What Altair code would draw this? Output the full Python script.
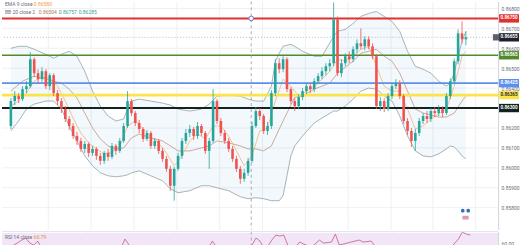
import altair as alt
import pandas as pd

# ---------------- data ----------------
open_ = [0.86210, 0.86335, 0.86360, 0.86345, 0.86395, 0.86410, 0.86545, 0.86475, 0.86445, 0.86485,
         0.86410, 0.86465, 0.86375, 0.86335, 0.86295, 0.86245, 0.86210, 0.86160, 0.86135, 0.86095,
         0.86120, 0.86075, 0.86095, 0.86060, 0.86035, 0.86075, 0.86055, 0.86110, 0.86085, 0.86135,
         0.86210, 0.86335, 0.86275, 0.86225, 0.86195, 0.86145, 0.86175, 0.86110, 0.86135, 0.86085,
         0.86045, 0.85995, 0.85910, 0.85995, 0.86060, 0.86135, 0.86175, 0.86195, 0.86160, 0.86210,
         0.86175, 0.86085, 0.86135, 0.86335, 0.86235, 0.86175, 0.86135, 0.86095, 0.86045, 0.85995,
         0.85945, 0.85975, 0.86035, 0.86210, 0.86285, 0.86260, 0.86185, 0.86210, 0.86375, 0.86525,
         0.86495, 0.86545, 0.86395, 0.86335, 0.86310, 0.86355, 0.86385, 0.86410, 0.86395, 0.86435,
         0.86460, 0.86485, 0.86510, 0.86525, 0.86745, 0.86475, 0.86525, 0.86560, 0.86545, 0.86595,
         0.86625, 0.86610, 0.86645, 0.86610, 0.86560, 0.86310, 0.86335, 0.86295, 0.86360, 0.86410,
         0.86425, 0.86360, 0.86235, 0.86185, 0.86135, 0.86175, 0.86235, 0.86260, 0.86245, 0.86285,
         0.86275, 0.86295, 0.86275, 0.86360, 0.86435, 0.86535, 0.86675, 0.86645]
close = [0.86335, 0.86360, 0.86345, 0.86395, 0.86410, 0.86545, 0.86475, 0.86445, 0.86485, 0.86410,
         0.86465, 0.86375, 0.86335, 0.86295, 0.86245, 0.86210, 0.86160, 0.86135, 0.86095, 0.86120,
         0.86075, 0.86095, 0.86060, 0.86035, 0.86075, 0.86055, 0.86110, 0.86085, 0.86135, 0.86210,
         0.86335, 0.86275, 0.86225, 0.86195, 0.86145, 0.86175, 0.86110, 0.86135, 0.86085, 0.86045,
         0.85995, 0.85910, 0.85995, 0.86060, 0.86135, 0.86175, 0.86195, 0.86160, 0.86210, 0.86175,
         0.86085, 0.86135, 0.86335, 0.86235, 0.86175, 0.86135, 0.86095, 0.86045, 0.85995, 0.85945,
         0.85975, 0.86035, 0.86210, 0.86285, 0.86260, 0.86185, 0.86210, 0.86375, 0.86525, 0.86495,
         0.86545, 0.86395, 0.86335, 0.86310, 0.86355, 0.86385, 0.86410, 0.86395, 0.86435, 0.86460,
         0.86485, 0.86510, 0.86525, 0.86745, 0.86475, 0.86525, 0.86560, 0.86545, 0.86595, 0.86625,
         0.86610, 0.86645, 0.86610, 0.86560, 0.86310, 0.86335, 0.86295, 0.86360, 0.86410, 0.86425,
         0.86360, 0.86235, 0.86185, 0.86135, 0.86175, 0.86235, 0.86260, 0.86245, 0.86285, 0.86275,
         0.86295, 0.86275, 0.86360, 0.86435, 0.86535, 0.86675, 0.86645, 0.86655]
high = [0.86350, 0.86385, 0.86375, 0.86410, 0.86435, 0.86580, 0.86555, 0.86495, 0.86505, 0.86495,
        0.86475, 0.86475, 0.86390, 0.86350, 0.86310, 0.86260, 0.86225, 0.86180, 0.86150, 0.86135,
        0.86130, 0.86110, 0.86105, 0.86075, 0.86085, 0.86095, 0.86125, 0.86120, 0.86150, 0.86225,
        0.86385, 0.86345, 0.86285, 0.86240, 0.86205, 0.86190, 0.86185, 0.86150, 0.86145, 0.86100,
        0.86060, 0.86010, 0.86005, 0.86075, 0.86150, 0.86195, 0.86215, 0.86205, 0.86230, 0.86220,
        0.86185, 0.86150, 0.86395, 0.86345, 0.86250, 0.86190, 0.86150, 0.86110, 0.86060, 0.86010,
        0.85995, 0.86050, 0.86230, 0.86305, 0.86300, 0.86270, 0.86230, 0.86390, 0.86545, 0.86550,
        0.86560, 0.86555, 0.86405, 0.86350, 0.86370, 0.86400, 0.86425, 0.86425, 0.86450, 0.86475,
        0.86505, 0.86525, 0.86545, 0.86830, 0.86760, 0.86545, 0.86575, 0.86585, 0.86610, 0.86645,
        0.86700, 0.86660, 0.86660, 0.86625, 0.86570, 0.86355, 0.86350, 0.86375, 0.86425, 0.86445,
        0.86440, 0.86370, 0.86250, 0.86200, 0.86195, 0.86250, 0.86275, 0.86285, 0.86300, 0.86305,
        0.86315, 0.86310, 0.86375, 0.86450, 0.86550, 0.86695, 0.86735, 0.86685]
low = [0.86195, 0.86315, 0.86325, 0.86335, 0.86375, 0.86400, 0.86455, 0.86425, 0.86430, 0.86395,
       0.86390, 0.86360, 0.86315, 0.86275, 0.86230, 0.86190, 0.86145, 0.86115, 0.86080, 0.86075,
       0.86055, 0.86060, 0.86040, 0.86015, 0.86020, 0.86035, 0.86045, 0.86065, 0.86075, 0.86125,
       0.86200, 0.86260, 0.86210, 0.86175, 0.86130, 0.86135, 0.86095, 0.86095, 0.86070, 0.86030,
       0.85980, 0.85885, 0.85835, 0.85985, 0.86045, 0.86120, 0.86155, 0.86140, 0.86145, 0.86160,
       0.86070, 0.85995, 0.86125, 0.86220, 0.86160, 0.86120, 0.86080, 0.86030, 0.85980, 0.85920,
       0.85930, 0.85960, 0.86025, 0.86200, 0.86240, 0.86170, 0.86165, 0.86195, 0.86360, 0.86475,
       0.86480, 0.86380, 0.86320, 0.86285, 0.86295, 0.86340, 0.86370, 0.86375, 0.86380, 0.86420,
       0.86445, 0.86465, 0.86485, 0.86510, 0.86460, 0.86455, 0.86510, 0.86525, 0.86530, 0.86575,
       0.86595, 0.86590, 0.86595, 0.86545, 0.86295, 0.86285, 0.86280, 0.86285, 0.86345, 0.86395,
       0.86345, 0.86220, 0.86165, 0.86105, 0.86085, 0.86160, 0.86220, 0.86225, 0.86230, 0.86255,
       0.86260, 0.86255, 0.86265, 0.86345, 0.86420, 0.86520, 0.86625, 0.86615]
candle_idx = list(range(len(close)))

band_idx = [0, 2, 4, 6, 9, 11, 13, 15, 17, 19, 21, 23, 25, 27, 29, 30, 31, 33, 36, 39, 41, 43, 46, 49,
            51, 53, 56, 59, 61, 63, 65, 67, 68, 69, 70, 71, 72, 73, 75, 78, 80, 83, 84, 86, 88, 90,
            92, 94, 96, 98, 100, 102, 104, 106, 108, 110, 112, 113, 114, 115, 116, 117]
bb_upper = [0.86600, 0.86610, 0.86610, 0.86595, 0.86570, 0.86550, 0.86570, 0.86585, 0.86560, 0.86485,
            0.86385, 0.86310, 0.86260, 0.86235, 0.86245, 0.86295, 0.86335, 0.86345, 0.86335, 0.86325,
            0.86315, 0.86295, 0.86285, 0.86295, 0.86320, 0.86360, 0.86365, 0.86360, 0.86345, 0.86335,
            0.86335, 0.86410, 0.86535, 0.86575, 0.86610, 0.86615, 0.86620, 0.86610, 0.86585, 0.86560,
            0.86560, 0.86660, 0.86685, 0.86695, 0.86725, 0.86760, 0.86775, 0.86785, 0.86760, 0.86735,
            0.86685, 0.86585, 0.86510, 0.86495, 0.86475, 0.86435, 0.86410, 0.86425, 0.86475, 0.86560,
            0.86635, 0.86685]
bb_lower = [0.86185, 0.86235, 0.86295, 0.86320, 0.86335, 0.86335, 0.86295, 0.86210, 0.86135, 0.86060,
            0.86010, 0.85975, 0.85960, 0.85955, 0.85960, 0.85965, 0.85975, 0.85985, 0.85960, 0.85935,
            0.85895, 0.85875, 0.85885, 0.85910, 0.85910, 0.85900, 0.85885, 0.85855, 0.85845, 0.85850,
            0.85845, 0.85835, 0.85835, 0.85835, 0.85860, 0.85960, 0.86060, 0.86110, 0.86160, 0.86225,
            0.86250, 0.86285, 0.86285, 0.86310, 0.86345, 0.86385, 0.86400, 0.86395, 0.86360, 0.86335,
            0.86260, 0.86160, 0.86085, 0.86060, 0.86055, 0.86070, 0.86095, 0.86110, 0.86105, 0.86085,
            0.86060, 0.86045]
basis_idx = [0, 3, 6, 9, 11, 13, 15, 17, 19, 21, 23, 25, 27, 29, 31, 33, 36, 39, 41, 43, 46, 49, 51,
             53, 56, 59, 61, 63, 65, 67, 69, 71, 73, 75, 78, 80, 82, 84, 86, 88, 90, 92, 94, 96, 98,
             100, 102, 104, 106, 108, 110, 112, 114, 116, 117]
bb_basis = [0.86385, 0.86435, 0.86460, 0.86445, 0.86435, 0.86425, 0.86395, 0.86350, 0.86275, 0.86200,
            0.86145, 0.86110, 0.86095, 0.86100, 0.86150, 0.86170, 0.86150, 0.86135, 0.86110, 0.86085,
            0.86085, 0.86100, 0.86110, 0.86135, 0.86125, 0.86110, 0.86095, 0.86095, 0.86085, 0.86110,
            0.86195, 0.86275, 0.86355, 0.86360, 0.86395, 0.86410, 0.86425, 0.86475, 0.86505, 0.86535,
            0.86575, 0.86585, 0.86595, 0.86560, 0.86535, 0.86475, 0.86385, 0.86295, 0.86275, 0.86265,
            0.86255, 0.86255, 0.86275, 0.86335, 0.86360]
ema_idx = [0, 2, 4, 6, 8, 10, 12, 14, 16, 18, 20, 22, 24, 26, 28, 30, 32, 34, 36, 38, 40, 42, 44, 46,
           48, 50, 52, 54, 56, 58, 60, 62, 64, 66, 68, 70, 72, 74, 76, 78, 80, 82, 84, 86, 88, 90,
           92, 94, 96, 98, 100, 102, 104, 106, 108, 110, 112, 114, 116, 117]
ema9 = [0.86310, 0.86335, 0.86375, 0.86435, 0.86455, 0.86450, 0.86410, 0.86335, 0.86250, 0.86175,
        0.86125, 0.86095, 0.86070, 0.86080, 0.86105, 0.86210, 0.86235, 0.86195, 0.86155, 0.86125,
        0.86075, 0.86010, 0.86060, 0.86135, 0.86170, 0.86145, 0.86210, 0.86210, 0.86160, 0.86085,
        0.86010, 0.86060, 0.86185, 0.86200, 0.86335, 0.86445, 0.86410, 0.86360, 0.86385, 0.86405,
        0.86445, 0.86485, 0.86545, 0.86535, 0.86560, 0.86595, 0.86610, 0.86510, 0.86410, 0.86385,
        0.86385, 0.86295, 0.86195, 0.86210, 0.86245, 0.86270, 0.86295, 0.86410, 0.86560, 0.86585]
rsi_idx = [0, 2, 4, 5, 6, 7, 8, 9, 12, 20, 28, 29, 30, 31, 33, 40, 42, 45, 48, 50, 52, 53, 56, 60, 62,
           63, 64, 65, 66, 67, 68, 69, 70, 71, 72, 74, 75, 77, 79, 80, 82, 83, 84, 86, 89, 90, 92,
           93, 94, 98, 100, 103, 108, 112, 114, 115, 116, 117]
rsi14 = [55, 58, 63, 65, 60, 58, 62, 55, 45, 38, 50, 55, 64, 58, 50, 35, 45, 55, 57, 48, 62, 56, 45,
         38, 58, 65, 62, 55, 57, 63, 68, 67, 68, 58, 52, 61, 59, 56, 63, 60, 61, 69, 58, 60, 63, 61,
         62, 57, 45, 52, 50, 40, 48, 55, 64, 71, 69, 68]

# price ticks (0.8630 sits under the black level label, as in the original)
price_ticks = [0.8580, 0.8590, 0.8600, 0.8610, 0.8620, 0.8640, 0.8650, 0.8660, 0.8670, 0.8680]
grid_ticks = [0.8580, 0.8590, 0.8600, 0.8610, 0.8620, 0.8630, 0.8640, 0.8650, 0.8660, 0.8670, 0.8680]
level_values = [0.86750, 0.86565, 0.86425, 0.86365, 0.86300]
last_price = 0.86655
crosshair_idx = 61.8
vgrid_idx = [9.5, 20.5, 31.5, 42.5, 53.5, 64.5, 75.5, 86.5, 97.5, 108.5, 119.5]
rsi_ticks = [60]
rsi_band = [70, 30]
event_idx = [116.2, 117.6]
event_price = [0.85785, 0.85785]
event2_idx = [116.9]
event2_price = [0.85750]

hdr_ema = ["EMA 9 close", "0.86580"]
hdr_bb = ["BB 20 close 2", "0.86504", "0.86757", "0.86285"]
hdr_rsi = ["RSI 14 close", "66.79"]

# ---------------- styles ----------------
UP, DN = "#26a69a", "#ef5350"
LEVEL_COLORS = ["#e0312f", "#4f8a2b", "#5b8ff0", "#fbe44a", "#16221f"]
LEVEL_WIDTHS = [2, 1.6, 1.6, 2.6, 2]
LEVEL_TEXT = ["white", "white", "white", "#333333", "white"]
FONT = "Roboto"
GRID = "#eef0f4"
AX = "#6a6d78"
W, H_MAIN, H_RSI = 498, 229, 16

xs = alt.Scale(domain=[-1, 124], nice=False, zero=False)
ys = alt.Scale(domain=[0.8569, 0.86835], nice=False, zero=False)
rs = alt.Scale(domain=[55.5, 71.5], nice=False, zero=False)

xaxis = alt.Axis(title=None, labels=False, ticks=False, domain=False, grid=True,
                 values=vgrid_idx, gridColor=GRID, gridWidth=1)
yaxis = alt.Axis(title=None, orient="right", values=price_ticks, format=".5f",
                 labelFontSize=5, labelColor=AX, labelFont=FONT, ticks=False,
                 domain=True, domainColor="#d1d4dc", grid=False, labelPadding=3)
raxis = alt.Axis(title=None, orient="right", values=rsi_ticks, format=".2f",
                 labelFontSize=5, labelColor=AX, labelFont=FONT, ticks=False,
                 domain=True, domainColor="#d1d4dc", grid=False, labelPadding=3)


def X(f="i"):
    return alt.X(f"{f}:Q", scale=xs, axis=xaxis, title=None)


def Y(f):
    return alt.Y(f"{f}:Q", scale=ys, axis=yaxis, title=None)


def RY(f):
    return alt.Y(f"{f}:Q", scale=rs, axis=raxis, title=None)


cdf = pd.DataFrame(dict(i=candle_idx, open=open_, high=high, low=low, close=close))
bdf = pd.DataFrame(dict(i=band_idx, upper=bb_upper, lower=bb_lower))
mdf = pd.DataFrame(dict(i=basis_idx, basis=bb_basis))
edf = pd.DataFrame(dict(i=ema_idx, ema=ema9))

hgrid = alt.Chart(pd.DataFrame(dict(p=grid_ticks))).mark_rule(color=GRID, strokeWidth=1).encode(y=Y("p"))
band_fill = alt.Chart(bdf).mark_area(color="#5fa8d3", opacity=0.08).encode(
    x=X(), y=Y("upper"), y2="lower:Q")
band_up = alt.Chart(bdf).mark_line(color="#8fa2a6", strokeWidth=0.8).encode(x=X(), y=Y("upper"))
band_lo = alt.Chart(bdf).mark_line(color="#8fa2a6", strokeWidth=0.8).encode(x=X(), y=Y("lower"))
basis = alt.Chart(mdf).mark_line(color="#c39684", strokeWidth=0.8).encode(x=X(), y=Y("basis"))
ema = alt.Chart(edf).mark_line(color="#f6b27c", strokeWidth=0.8).encode(x=X(), y=Y("ema"))

color = alt.Color("dir:N", scale=alt.Scale(domain=["up", "down"], range=[UP, DN]), legend=None)
cbase = alt.Chart(cdf).transform_calculate(dir="datum.close >= datum.open ? 'up' : 'down'")
wicks = cbase.mark_rule(strokeWidth=0.8).encode(x=X(), y=Y("low"), y2="high:Q", color=color)
bodies = cbase.mark_bar(width=2.6).encode(x=X(), y=Y("open"), y2="close:Q", color=color)

layers = [hgrid, band_fill, band_up, band_lo, basis, ema]

# current price dotted line
lp = pd.DataFrame(dict(p=[last_price]))
layers.append(alt.Chart(lp).mark_rule(color="#b8bcc6", strokeWidth=1, strokeDash=[1, 2]).encode(y=Y("p")))

# horizontal levels
for v, c, w in zip(level_values, LEVEL_COLORS, LEVEL_WIDTHS):
    layers.append(alt.Chart(pd.DataFrame(dict(p=[v]))).mark_rule(color=c, strokeWidth=w).encode(y=Y("p")))

layers += [wicks, bodies]

# crosshair
ch = pd.DataFrame(dict(i=[crosshair_idx], p=[level_values[0]]))
layers.append(alt.Chart(ch).mark_rule(color="#9598a1", strokeWidth=0.8, strokeDash=[3, 3]).encode(x=X()))
layers.append(alt.Chart(ch).mark_point(shape="circle", size=22, filled=True, fill="white",
                                       stroke="#6d72c9", strokeWidth=1, opacity=1).encode(x=X(), y=Y("p")))

# event markers near the bottom right
layers.append(alt.Chart(pd.DataFrame(dict(i=event_idx, p=event_price))).mark_point(
    shape="circle", size=14, filled=True, color="#2f6fb5", opacity=1).encode(x=X(), y=Y("p")))
layers.append(alt.Chart(pd.DataFrame(dict(i=event2_idx, p=event2_price))).mark_point(
    shape="M-1,-0.6H1V0.6H-1Z", size=40, filled=True, color="#d99ab9", opacity=1).encode(x=X(), y=Y("p")))

# price label boxes on the right axis
BOX = "M-1,-0.42H1V0.42H-1Z"
for v, c, tc in zip(level_values, LEVEL_COLORS, LEVEL_TEXT):
    d = pd.DataFrame(dict(p=[v], t=[f"{v:.5f}"]))
    layers.append(alt.Chart(d).mark_point(shape=BOX, size=400, filled=True, color=c, opacity=1).encode(
        x=alt.value(509), y=Y("p")))
    layers.append(alt.Chart(d).mark_text(fontSize=4.6, font=FONT, color=tc, fontWeight="bold").encode(
        x=alt.value(509), y=Y("p"), text="t:N"))
dl = pd.DataFrame(dict(p=[last_price], t=[f"{last_price:.5f}"]))
layers.append(alt.Chart(dl).mark_point(shape=BOX, size=400, filled=True, color="#1e222d", opacity=1).encode(
    x=alt.value(509), y=Y("p")))
layers.append(alt.Chart(dl).mark_point(shape="M-1,-1H1V1H-1Z", size=40, filled=True, color="#5d606b",
                                       opacity=1).encode(x=alt.value(496), y=Y("p")))
layers.append(alt.Chart(dl).mark_text(fontSize=4.6, font=FONT, color="white", fontWeight="bold").encode(
    x=alt.value(509), y=Y("p"), text="t:N"))


# header texts
def txt(s, x, y, c):
    return alt.Chart(pd.DataFrame(dict(t=[s]))).mark_text(
        fontSize=5, font=FONT, color=c, align="left", baseline="middle").encode(
        x=alt.value(x), y=alt.value(y), text="t:N")


layers += [txt(hdr_ema[0], 3, 3, "#6a6d78"), txt(hdr_ema[1], 32, 3, "#f0a13c"),
           txt(hdr_bb[0], 3, 11, "#6a6d78"), txt(hdr_bb[1], 37, 11, "#b07a5c"),
           txt(hdr_bb[2], 57, 11, "#3d9e98"), txt(hdr_bb[3], 77, 11, "#3d9e98")]

main = alt.layer(*layers).properties(width=W, height=H_MAIN)

# ---------------- RSI panel ----------------
rdf = pd.DataFrame(dict(i=rsi_idx, r=rsi14))
rband = alt.Chart(pd.DataFrame(dict(a=[rsi_band[0]], b=[rsi_band[1]]))).mark_rect(
    color="#f1e5f7", clip=True).encode(y=RY("a"), y2="b:Q")
rgrid = alt.Chart(pd.DataFrame(dict(i=vgrid_idx))).mark_rule(color=GRID, strokeWidth=1).encode(
    x=alt.X("i:Q", scale=xs, axis=None))
rline = alt.Chart(rdf).mark_line(color="#c2607e", strokeWidth=0.8, clip=True).encode(
    x=alt.X("i:Q", scale=xs, axis=None), y=RY("r"))
rcross = alt.Chart(pd.DataFrame(dict(i=[crosshair_idx]))).mark_rule(
    color="#9598a1", strokeWidth=0.8, strokeDash=[3, 3]).encode(x=alt.X("i:Q", scale=xs, axis=None))
rsep = alt.Chart(pd.DataFrame(dict(i=[0]))).mark_rule(color="#e0e3eb", strokeWidth=1).encode(
    x=alt.value(0), x2=alt.value(W), y=alt.value(0))
rsi = alt.layer(rgrid, rband, rline, rcross, rsep,
                txt(hdr_rsi[0], 3, 5, "#6a6d78"), txt(hdr_rsi[1], 32, 5, "#e0923a")
                ).properties(width=W, height=H_RSI)

chart = alt.vconcat(main, rsi, spacing=0).properties(padding=0).configure_view(stroke=None)
chart.save("out.html", embed_options={"renderer": "svg", "actions": False})
